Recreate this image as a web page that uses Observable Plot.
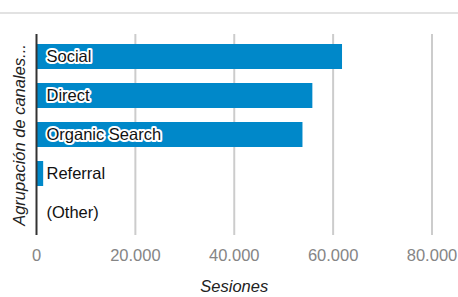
<!DOCTYPE html>
<html>
<head>
<meta charset="utf-8">
<script src="https://cdn.jsdelivr.net/npm/d3@7"></script>
<script src="https://cdn.jsdelivr.net/npm/@observablehq/plot@0.6"></script>
<style>
  html, body { margin: 0; padding: 0; background: #fff; }
  #wrap { position: relative; width: 458px; height: 297px; }
  #topline { position: absolute; left: 0; top: 12px; width: 458px; height: 2px; background: #e2e2e2; }
</style>
</head>
<body>
<div id="wrap"><div id="topline"></div></div>
<script>
const categories = ["Social", "Direct", "Organic Search", "Referral", "(Other)"];
const sessions = [61900, 55900, 53900, 1450, 0];
const xTicks = [0, 20000, 40000, 60000, 80000];
const xTitle = "Sesiones";
const yTitle = "Agrupación de canales...";

const data = categories.map((c, i) => ({channel: c, value: sessions[i]}));
const fmt = d3.formatLocale({thousands: ".", grouping: [3], decimal: ",", currency: ["", ""]}).format(",d");

const chart = Plot.plot({
  width: 458,
  height: 297,
  marginLeft: 36,
  marginRight: 26.5,
  marginTop: 34,
  marginBottom: 62,
  style: {fontFamily: "'Liberation Sans', Arial, sans-serif", fontSize: "16px", background: "transparent"},
  x: {domain: [0, 80000], ticks: xTicks, axis: null},
  y: {domain: categories, paddingInner: 0.367, paddingOuter: 0.23, axis: null},
  marks: [
    Plot.gridX(xTicks.slice(1), {stroke: "#cccccc", strokeOpacity: 1, strokeWidth: 2}),
    Plot.barX(data, {x: "value", y: "channel", fill: "#0088c9"}),
    Plot.ruleX([0], {stroke: "#333333", strokeWidth: 2}),
    Plot.axisX(xTicks, {tickSize: 0, tickPadding: 14, tickFormat: fmt, fill: "#858585", fontSize: 16.5, label: null}),
    Plot.text(data, {x: 0, y: "channel", text: "channel", dx: 10, textAnchor: "start", fill: "#111", stroke: "white", strokeWidth: 4, fontSize: 16.5}),
    Plot.text([xTitle], {frameAnchor: "bottom", text: d => d, dy: 56, fontStyle: "italic", fontSize: 16.5, fill: "#222"}),
    Plot.text([yTitle], {frameAnchor: "left", textAnchor: "middle", text: d => d, rotate: -90, dx: -17, fontStyle: "italic", fontSize: 16.5, fill: "#222"})
  ]
});
document.getElementById("wrap").appendChild(chart);
chart.style.position = "absolute";
chart.style.left = "0";
chart.style.top = "0";
</script>
</body>
</html>
